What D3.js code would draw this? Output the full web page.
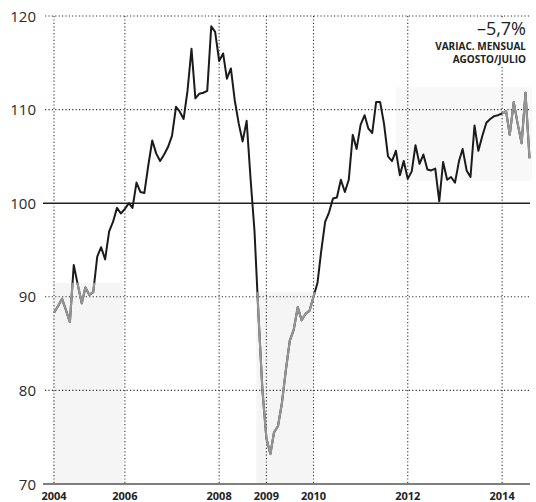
<!DOCTYPE html>
<html>
<head>
<meta charset="utf-8">
<script src="https://cdn.jsdelivr.net/npm/d3@7"></script>
<style>
  body { margin: 0; background: #fff; }
  svg { display: block; }
  .ylab { font-family: "Open Sans", sans-serif; font-size: 15px; fill: #2a2a2a; }
  .xlab { font-family: "Open Sans", sans-serif; font-size: 11px; font-weight: 700; fill: #222; }
</style>
</head>
<body>
<svg id="chart"></svg>
<script>
// monthly index, starting July 2004
const startMonth = [2004, 6];
const values = [
  88.3, 89.0, 89.8, 88.6, 87.3, 93.4, 91.3, 89.3, 91.0, 90.2, 90.5, 94.3,
  95.3, 94.0, 97.0, 98.0, 99.5, 98.9, 99.4, 100.0, 99.5, 102.2, 101.2, 101.1,
  104.0, 106.7, 105.3, 104.5, 105.2, 106.0, 107.2, 110.3, 109.8, 109.0, 112.0, 116.5,
  111.2, 111.7, 111.8, 112.0, 118.9, 118.3, 115.2, 116.0, 113.3, 114.4, 111.0, 108.5,
  106.6, 108.8, 102.5, 97.0, 88.0, 80.1, 74.9, 73.2, 75.5, 76.2, 78.6, 82.2,
  85.3, 86.5, 88.9, 87.5, 88.2, 88.5, 90.0, 91.5, 94.8, 98.0, 99.0, 100.5,
  100.6, 102.5, 101.2, 102.5, 107.3, 105.8, 108.4, 109.4, 108.0, 107.5, 110.8, 110.8,
  108.5, 105.0, 104.5, 105.6, 103.0, 104.5, 102.6, 103.4, 106.2, 104.2, 105.2, 103.6,
  103.5, 103.7, 100.2, 104.4, 102.5, 102.8, 102.2, 104.5, 105.8, 103.5, 102.8, 108.3,
  105.6, 107.2, 108.6, 109.0, 109.3, 109.4, 109.6, 109.8, 107.3, 110.8, 108.5, 106.4,
  111.8, 104.8
];

const tickDates = ["2004-07", "2006-01", "2008-01", "2009-01", "2010-01", "2012-01", "2014-01"];
const tickLabels = ["2004", "2006", "2008", "2009", "2010", "2012", "2014"];
const yTicks = [70, 80, 90, 100, 110, 120];

// shaded periods: start, end, low, high
const boxStart = ["2004-06-20", "2008-10-15", "2011-10-05"];
const boxEnd = ["2005-12-20", "2009-12-25", "2014-08-20"];
const boxLow = [70, 70, 102.4];
const boxHigh = [91.5, 90.5, 112.4];
// periods where the line turns grey
const greyStart = ["2004-06-20", "2008-10-15", "2014-01-01"];
const greyEnd = ["2005-12-20", "2009-12-25", "2014-08-20"];
const greyLow = [70, 70, 102.4];
const greyHigh = [91.5, 90.5, 112.4];

const width = 536, height = 502;
const svg = d3.select("#chart").attr("width", width).attr("height", height);

const parseM = d3.timeParse("%Y-%m");
const parseD = d3.timeParse("%Y-%m-%d");
const data = values.map((v, i) => ({ date: new Date(startMonth[0], startMonth[1] + i, 1), value: v }));

const x = d3.scaleTime()
    .domain([data[0].date, data[data.length - 1].date])
    .range([54, 529.5]);
const y = d3.scaleLinear().domain([70, 120]).range([484, 16]);

// shaded boxes
svg.append("g").selectAll("rect")
    .data(boxStart.map((s, i) => ({ s: parseD(s), e: parseD(boxEnd[i]), lo: boxLow[i], hi: boxHigh[i] })))
    .join("rect")
    .attr("x", d => x(d.s))
    .attr("y", d => y(d.hi))
    .attr("width", d => x(d.e) - x(d.s))
    .attr("height", d => y(d.lo) - y(d.hi))
    .attr("fill", (d, i) => i === 2 ? "#f8f8f8" : "#f5f5f5");

// horizontal dotted grid
svg.append("g").selectAll("line")
    .data(yTicks.filter(t => t !== 100 && t !== 70))
    .join("line")
    .attr("x1", 45).attr("x2", 530)
    .attr("y1", d => y(d)).attr("y2", d => y(d))
    .attr("stroke", "#333").attr("stroke-width", 1.1)
    .attr("stroke-dasharray", "1.2,2.2");

// vertical dotted grid
svg.append("g").selectAll("line")
    .data(tickDates)
    .join("line")
    .attr("x1", d => x(parseM(d))).attr("x2", d => x(parseM(d)))
    .attr("y1", y(120)).attr("y2", y(70))
    .attr("stroke", "#333").attr("stroke-width", 1.1)
    .attr("stroke-dasharray", "1.2,2.2");

// solid reference lines
svg.append("line")
    .attr("x1", 43).attr("x2", 530)
    .attr("y1", y(100)).attr("y2", y(100))
    .attr("stroke", "#222").attr("stroke-width", 1.4);
svg.append("line")
    .attr("x1", 43).attr("x2", 530)
    .attr("y1", y(70)).attr("y2", y(70))
    .attr("stroke", "#555").attr("stroke-width", 1.6);

// y labels
svg.append("g").selectAll("text")
    .data(yTicks)
    .join("text")
    .attr("class", "ylab")
    .attr("x", 36)
    .attr("y", d => y(d) + 5.5)
    .attr("text-anchor", "end")
    .text(d => d);

// x labels
svg.append("g").selectAll("text")
    .data(tickDates)
    .join("text")
    .attr("class", "xlab")
    .attr("x", d => x(parseM(d)))
    .attr("y", 500)
    .attr("text-anchor", "middle")
    .text((d, i) => tickLabels[i]);

// annotation with white backing
svg.append("rect")
    .attr("x", 424).attr("y", 19).attr("width", 108).attr("height", 48)
    .attr("fill", "#fff");
const ann = svg.append("g").attr("font-family", "'Open Sans', sans-serif").attr("text-anchor", "end");
ann.append("text").attr("x", 526).attr("y", 35)
    .attr("font-size", 18).attr("fill", "#222").text("–5,7%");
ann.append("text").attr("x", 526).attr("y", 49.5)
    .attr("font-size", 10).attr("font-weight", 700).attr("fill", "#222").text("VARIAC. MENSUAL");
ann.append("text").attr("x", 526).attr("y", 63)
    .attr("font-size", 10).attr("font-weight", 700).attr("fill", "#222").text("AGOSTO/JULIO");

// line
const line = d3.line().x(d => x(d.date)).y(d => y(d.value));

svg.append("path")
    .datum(data)
    .attr("d", line)
    .attr("fill", "none")
    .attr("stroke", "#1b1b1b")
    .attr("stroke-width", 2)
    .attr("stroke-linejoin", "round");

const clip = svg.append("clipPath").attr("id", "greyclip");
clip.selectAll("rect")
    .data(greyStart.map((s, i) => ({ s: parseD(s), e: parseD(greyEnd[i]), lo: greyLow[i], hi: greyHigh[i] })))
    .join("rect")
    .attr("x", d => x(d.s))
    .attr("y", d => y(d.hi))
    .attr("width", d => x(d.e) - x(d.s) + 4)
    .attr("height", d => y(d.lo) - y(d.hi));

svg.append("path")
    .datum(data)
    .attr("d", line)
    .attr("fill", "none")
    .attr("stroke", "#949494")
    .attr("stroke-width", 2.2)
    .attr("stroke-linejoin", "round")
    .attr("clip-path", "url(#greyclip)");
</script>
</body>
</html>
